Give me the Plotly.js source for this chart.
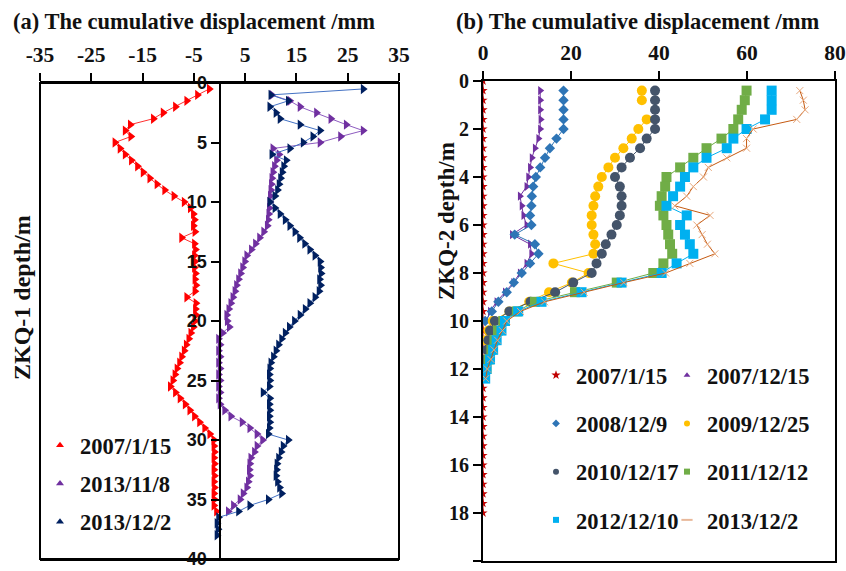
<!DOCTYPE html>
<html>
<head>
<meta charset="utf-8">
<script src="https://cdn.plot.ly/plotly-3.0.1.min.js"></script>
<style>html,body{margin:0;padding:0;background:#fff;}#chart{width:846px;height:571px;}</style>
</head>
<body>
<div id="chart"></div>
<script>
// ---------- Panel (a): ZKQ-1 ----------
const depthA = [0.5,1,1.5,2,2.5,3,3.5,4,4.5,5,5.5,6,6.5,7,7.5,8,8.5,9,9.5,10,
  10.5,11,11.5,12,12.5,13,13.5,14,14.5,15,15.5,16,16.5,17,17.5,18,18.5,19,19.5,20,
  20.5,21,21.5,22,22.5,23,23.5,24,24.5,25,25.5,26,26.5,27,27.5,28,28.5,29,29.5,30,
  30.5,31,31.5,32,32.5,33,33.5,34,34.5,35,35.5,36,36.5,37,37.5,38];
const a_20070115 = [-2.0,-4.3,-6.4,-8.6,-11.0,-12.9,-17.4,-18.4,-17.3,-20.4,
  -19.4,-18.4,-17.2,-16.0,-14.9,-13.6,-12.2,-10.7,-8.9,-6.9,
  -5.7,-5.1,-4.9,-5.1,-4.8,-7.4,-4.9,-4.7,-4.9,-4.8,
  -4.9,-4.7,-4.8,-4.6,-4.8,-6.4,-4.6,-4.7,-4.6,-4.8,
  -5.1,-5.6,-6.0,-6.5,-6.9,-7.4,-7.8,-8.3,-8.7,-9.1,
  -9.6,-8.6,-7.7,-6.7,-5.8,-4.9,-3.9,-2.9,-1.9,-1.1,
  -1.1,-1.0,-1.1,-1.0,-1.1,-1.0,-1.1,-1.0,-1.1,-1.0,-1.1,-0.6,
  null,null,null,null];
const a_20131108 = [null,10.2,13.7,15.7,18.9,21.7,24.7,28.0,23.6,19.6,
  10.4,11.6,11.1,10.7,10.4,10.2,10.1,10.0,9.9,9.8,
  9.7,9.6,9.5,9.3,8.6,7.8,7.0,6.2,5.3,4.9,
  4.5,4.1,3.7,3.3,3.0,2.6,2.2,1.8,1.4,1.5,
  1.9,0.6,-0.2,0.1,-0.2,0.1,-0.2,0.1,-0.2,0.1,
  -0.2,0.1,-0.2,0.1,1.0,2.2,4.4,5.9,7.3,8.4,
  7.3,6.8,6.1,5.9,5.8,5.9,5.6,5.3,4.6,4.0,2.7,1.7,
  null,null,null,null];
const a_20131202 = [28.0,10.0,13.4,9.8,11.0,11.8,15.7,19.6,18.2,16.3,
  13.7,10.2,13.0,12.5,12.2,11.9,11.6,11.3,10.8,9.8,
  10.8,11.8,12.8,13.7,14.7,15.6,16.6,17.6,18.6,19.6,
  19.7,19.8,19.5,19.7,19.4,18.6,17.6,16.7,15.7,14.6,
  13.6,12.8,12.1,11.5,11.0,10.5,10.0,9.8,9.7,9.8,
  9.7,8.5,9.8,9.7,9.8,9.7,9.8,9.7,9.5,13.4,
  12.4,12.0,11.5,11.2,11.1,11.0,11.3,11.7,12.1,9.5,5.9,3.7,
  -0.2,-0.5,-0.3,-0.5];
const namesA = ['2007/1/15','2013/11/8','2013/12/2'];
const ticksA = [-35,-25,-15,-5,5,15,25,35];

// ---------- Panel (b): ZKQ-2 ----------
const depthB = [0,0.4,0.8,1.2,1.6,2.0,2.4,2.8,3.2,3.6,4.0,4.4,4.8,5.2,5.6,6.0,6.4,6.8,7.2,7.6,
  8.0,8.4,8.8,9.2,9.6,10.0,10.4,10.8,11.2,11.6,12.0,12.4,12.8,13.2,13.6,14.0,14.4,14.8,
  15.2,15.6,16.0,16.4,16.8,17.2,17.6,18.0];
const b_20070115 = [0,0,0,0,0,0,0,0,0,0,0,0,0,0,0,0,0,0,0,0,0,0,0,0,0,0,0,0,0,0,
  0,0,0,0,0,0,0,0,0,0,0,0,0,0,0,0];
const b_20071215 = [null,13.0,13.0,13.0,13.1,13.0,12.6,11.8,11.1,10.7,10.3,9.9,8.4,8.8,9.2,9.9,6.6,10.7,11.0,9.9,
  8.4,6.9,5.0,3.1,1.6,0.8];
const b_20081209 = [null,18.3,18.3,18.3,18.3,18.3,16.7,15.2,14.1,13.0,12.0,11.4,11.1,11.0,10.7,11.0,7.2,11.8,12.6,10.7,
  8.8,7.0,5.4,3.5,2.0,0.5];
const b_20091225 = [null,36.1,36.1,null,37.2,35.3,33.8,31.9,30.0,28.5,27.0,26.2,25.5,25.1,24.7,24.7,25.1,25.5,25.1,16.0,
  24.0,20.2,15.0,10.5,6.0,2.2,1.2,0.7];
const b_20101217 = [null,39.1,39.1,39.1,39.1,39.1,37.2,35.7,33.4,31.5,30.0,31.1,31.5,31.5,31.1,30.4,29.2,27.9,27.0,25.8,
  24.7,20.5,16.4,10.8,6.0,2.7,1.6,1.2,0.9,0.6,0.4];
const b_20111212 = [null,59.9,59.5,58.8,58.0,56.9,54.2,50.8,47.8,44.8,41.7,41.4,40.6,40.2,41.0,41.7,42.1,42.5,43.0,41.0,
  38.7,30.4,20.9,11.8,7.7,4.6,3.4,2.6,1.9,1.3,0.8];
const b_20121210 = [null,65.6,65.6,65.6,64.1,59.9,56.9,55.4,50.8,47.8,45.9,44.8,43.2,41.7,46.3,44.8,45.9,47.0,47.8,44.0,
  40.6,31.5,22.4,13.3,8.0,5.0,4.2,3.1,2.3,1.6,0.8,0.5];
const b_20131202 = [null,72.0,72.8,73.2,71.3,61.4,59.9,59.9,55.4,51.2,50.1,47.8,46.3,43.6,51.6,48.6,49.8,51.0,52.7,47.0,
  41.5,32.0,23.0,14.0,8.5,5.4,4.4,3.3,2.5,1.8,1.0,0.6];
const ticksB = [0,20,40,60,80];

const W = 846, H = 571;
const px = v => v / W, py = v => 1 - v / H;
const SERIF = 'Liberation Serif, Times New Roman, serif';
const SANS = 'Liberation Sans, Arial, sans-serif';

// plotted series (no legend entries; legend uses marker-only keys below)
function tr(x, y, color, symbol, size, lineColor, xa, ya, extra) {
  const t = {
    type: 'scatter', mode: 'lines+markers', x: x, y: y, showlegend: false,
    xaxis: xa, yaxis: ya, hoverinfo: 'skip',
    marker: {color: color, symbol: symbol, size: size},
    line: {color: lineColor, width: 1},
    connectgaps: false
  };
  return Object.assign(t, extra || {});
}
// legend keys (marker only, no data points)
function key(name, color, symbol, size, xa, ya, legend, group, lineColor) {
  return {
    type: 'scatter', mode: 'markers', x: [null], y: [null], name: name,
    xaxis: xa, yaxis: ya, legend: legend, legendgroup: group, showlegend: true,
    marker: {color: color, symbol: symbol, size: size, line: {width: lineColor ? 2 : 0, color: lineColor || color}}
  };
}

const data = [
  tr(a_20070115, depthA, '#FF0000', 'triangle-right', 9, '#FF3030', 'x', 'y'),
  tr(a_20131108, depthA, '#7030A0', 'triangle-right', 9, '#8E5CC0', 'x', 'y'),
  tr(a_20131202, depthA, '#002060', 'triangle-right', 9, '#4472C4', 'x', 'y'),

  tr(b_20070115, depthB, '#C00000', 'star', 7, '#C00000', 'x2', 'y2'),
  tr(b_20071215, depthB, '#7030A0', 'triangle-right', 8, '#7030A0', 'x2', 'y2'),
  tr(b_20081209, depthB, '#2E75B6', 'diamond', 8, '#2E75B6', 'x2', 'y2'),
  tr(b_20091225, depthB, '#FFC000', 'circle', 10, '#FFC000', 'x2', 'y2'),
  tr(b_20101217, depthB, '#44546A', 'circle', 10, '#44546A', 'x2', 'y2'),
  tr(b_20111212, depthB, '#70AD47', 'square', 10, '#70AD47', 'x2', 'y2'),
  tr(b_20121210, depthB, '#00B0F0', 'square', 10, '#00B0F0', 'x2', 'y2'),
  tr(b_20131202, depthB, '#E8A87C', 'x-thin-open', 7, '#C55A11', 'x2', 'y2',
     {marker: {color: '#E8A87C', symbol: 'x-thin-open', size: 7, line: {width: 1, color: '#E8A87C'}}}),

  key(namesA[0], '#FF0000', 'triangle-up', 7, 'x', 'y', 'legend', 'a1'),
  key(namesA[1], '#7030A0', 'triangle-up', 7, 'x', 'y', 'legend', 'a2'),
  key(namesA[2], '#002060', 'triangle-up', 7, 'x', 'y', 'legend', 'a3'),

  key('2007/1/15', '#C00000', 'star', 7, 'x2', 'y2', 'legend2', 'b1'),
  key('2008/12/9', '#2E75B6', 'diamond', 6, 'x2', 'y2', 'legend2', 'b3'),
  key('2010/12/17', '#44546A', 'circle', 6, 'x2', 'y2', 'legend2', 'b5'),
  key('2012/12/10', '#00B0F0', 'square', 6, 'x2', 'y2', 'legend2', 'b7'),
  key('2007/12/15', '#7030A0', 'triangle-up', 6, 'x2', 'y2', 'legend3', 'b2'),
  key('2009/12/25', '#FFC000', 'circle', 6, 'x2', 'y2', 'legend3', 'b4'),
  key('2011/12/12', '#70AD47', 'square', 6, 'x2', 'y2', 'legend3', 'b6'),
  key('2013/12/2', '#E8B89A', 'line-ew', 8, 'x2', 'y2', 'legend3', 'b8', '#E8B89A')
];

const legFont = {family: SERIF, size: 22.5, color: '#111', weight: 'bold'};
const layout = {
  width: W, height: H,
  margin: {l: 0, r: 0, t: 0, b: 0},
  paper_bgcolor: '#fff', plot_bgcolor: '#fff',
  showlegend: true,
  xaxis: {
    domain: [px(40), px(399)], range: [-35, 35], side: 'top', anchor: 'y',
    tickvals: ticksA, ticktext: ticksA.map(String), ticks: 'outside', ticklen: 8, tickwidth: 2,
    tickcolor: '#000', showline: true, linewidth: 2, linecolor: '#000', mirror: true,
    showgrid: false, zeroline: false, ticklabelstandoff: 2,
    tickfont: {family: SERIF, size: 21.5, color: '#111', weight: 'bold'}
  },
  yaxis: {
    domain: [py(559), py(83)], range: [40, 0], anchor: 'free', position: px(219.5),
    tickvals: [0,5,10,15,20,25,30,35,40], ticks: 'outside', ticklen: 8, tickwidth: 2, tickcolor: '#000',
    showline: true, linewidth: 2, linecolor: '#000', showgrid: false, zeroline: false,
    tickfont: {family: SANS, size: 18, color: '#111', weight: 'bold'}
  },
  xaxis2: {
    domain: [px(483), px(835)], range: [0, 80], side: 'top', anchor: 'y2',
    tickvals: ticksB, ticks: 'outside', ticklen: 8, tickwidth: 2, tickcolor: '#000',
    showline: true, linewidth: 2, linecolor: '#000', mirror: true,
    showgrid: false, zeroline: false, ticklabelstandoff: 2,
    tickfont: {family: SERIF, size: 21.5, color: '#111', weight: 'bold'}
  },
  yaxis2: {
    domain: [py(561), py(81)], range: [20, 0], anchor: 'x2',
    dtick: 2, ticks: 'outside', ticklen: 8, tickwidth: 2, tickcolor: '#000',
    showline: true, linewidth: 2, linecolor: '#000', mirror: true,
    showgrid: false, zeroline: false,
    tickfont: {family: SERIF, size: 20, color: '#111', weight: 'bold'}
  },
  shapes: [
    {type: 'rect', xref: 'x domain', yref: 'y domain', x0: 0, x1: 1, y0: 0, y1: 1,
     line: {color: '#000', width: 2}, fillcolor: 'rgba(0,0,0,0)', layer: 'above'}
  ],
  legend: {
    x: px(40), y: py(424), xanchor: 'left', yanchor: 'top', bgcolor: 'rgba(0,0,0,0)',
    font: legFont, traceorder: 'grouped', tracegroupgap: 6, itemwidth: 30
  },
  legend2: {
    x: px(536), y: py(354), xanchor: 'left', yanchor: 'top', bgcolor: 'rgba(0,0,0,0)',
    font: legFont, traceorder: 'grouped', tracegroupgap: 16, itemwidth: 30
  },
  legend3: {
    x: px(667), y: py(354), xanchor: 'left', yanchor: 'top', bgcolor: 'rgba(0,0,0,0)',
    font: legFont, traceorder: 'grouped', tracegroupgap: 16, itemwidth: 30
  },
  annotations: [
    {text: '(a) The cumulative displacement /mm', xref: 'paper', yref: 'paper', x: px(11), y: py(22),
     xanchor: 'left', yanchor: 'middle', showarrow: false,
     font: {family: SERIF, size: 22.5, color: '#111', weight: 'bold'}},
    {text: '(b) The cumulative displacement /mm', xref: 'paper', yref: 'paper', x: px(454), y: py(22),
     xanchor: 'left', yanchor: 'middle', showarrow: false,
     font: {family: SERIF, size: 22.5, color: '#111', weight: 'bold'}},
    {text: 'ZKQ-1 depth/m', xref: 'paper', yref: 'paper', x: px(22), y: py(298), textangle: -90,
     xanchor: 'center', yanchor: 'middle', showarrow: false,
     font: {family: SERIF, size: 24, color: '#111', weight: 'bold'}},
    {text: 'ZKQ-2 depth/m', xref: 'paper', yref: 'paper', x: px(447), y: py(221), textangle: -90,
     xanchor: 'center', yanchor: 'middle', showarrow: false,
     font: {family: SERIF, size: 23, color: '#111', weight: 'bold'}}
  ]
};

Plotly.newPlot('chart', data, layout, {staticPlot: true, displayModeBar: false});
</script>
</body>
</html>
